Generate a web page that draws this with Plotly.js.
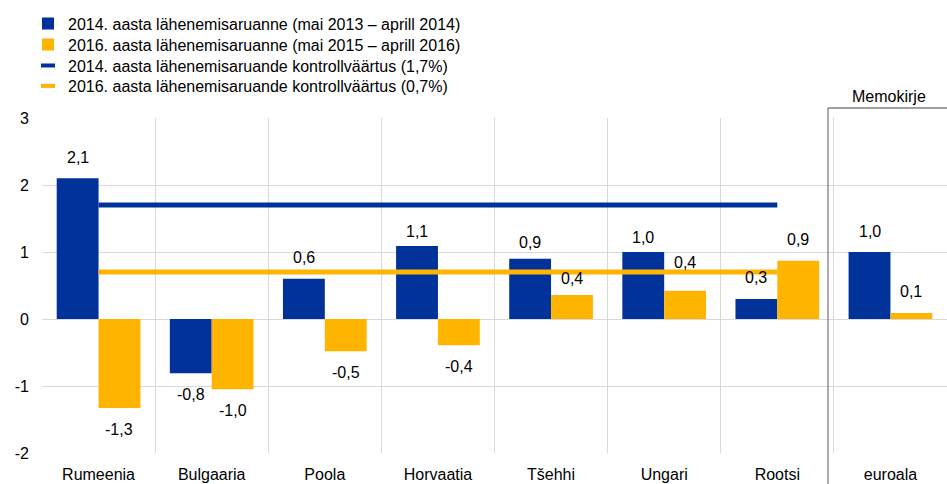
<!DOCTYPE html>
<html>
<head>
<meta charset="utf-8">
<script src="https://cdn.plot.ly/plotly-3.0.1.min.js"></script>
<style>html,body{margin:0;padding:0;background:#fff}#chart{width:947px;height:484px}</style>
</head>
<body>
<div id="chart"></div>
<script>
// ---- data ----
const categories = ["Rumeenia", "Bulgaaria", "Poola", "Horvaatia", "Tšehhi", "Ungari", "Rootsi", "euroala"];
const report2014 = [2.1, -0.81, 0.6, 1.09, 0.9, 1.0, 0.3, 1.0];
const report2016 = [-1.33, -1.05, -0.48, -0.39, 0.36, 0.42, 0.87, 0.09];
const labels2014 = ["2,1", "-0,8", "0,6", "1,1", "0,9", "1,0", "0,3", "1,0"];
const labels2016 = ["-1,3", "-1,0", "-0,5", "-0,4", "0,4", "0,4", "0,9", "0,1"];
const refCategories = ["Rumeenia", "Bulgaaria", "Poola", "Horvaatia", "Tšehhi", "Ungari", "Rootsi"];
const ref2014 = 1.7;
const ref2016 = 0.7;
const seriesNames = [
  "2014. aasta lähenemisaruanne (mai 2013 – aprill 2014)",
  "2016. aasta lähenemisaruanne (mai 2015 – aprill 2016)",
  "2014. aasta lähenemisaruande kontrollväärtus (1,7%)",
  "2016. aasta lähenemisaruande kontrollväärtus (0,7%)"
];
const yTickVals = [-2, -1, 0, 1, 2, 3];
const yTickText = ["-2", "-1", "0", "1", "2", "3"];

// ---- style ----
const BLUE = "#003299", YELLOW = "#FFB400";
const FONT = "Liberation Sans, Arial, sans-serif";
const FS = 16;
const W = 947, H = 484, ML = 42, MR = 0, MT = 118, MB = 31;
const plotW = W - ML - MR, plotH = H - MT - MB;
const BARGAP = 0.26;
const barOffset = (plotW / categories.length) * (1 - BARGAP) / 4;
const px = p => (p - ML) / plotW;          // page x -> paper x
const py = p => (H - MB - p) / plotH;      // page y -> paper y

const traces = [
  {type: "bar", name: seriesNames[0], x: categories, y: report2014, legend: "legend",
   marker: {color: BLUE, line: {width: 0}}, hoverinfo: "skip"},
  {type: "bar", name: seriesNames[1], x: categories, y: report2016, legend: "legend2",
   marker: {color: YELLOW, line: {width: 0}}, hoverinfo: "skip"},
  {type: "scatter", mode: "lines", x: refCategories, y: refCategories.map(() => ref2014),
   line: {color: BLUE, width: 5}, showlegend: false, hoverinfo: "skip"},
  {type: "scatter", mode: "lines", x: refCategories, y: refCategories.map(() => ref2016),
   line: {color: YELLOW, width: 5}, showlegend: false, hoverinfo: "skip"},
  {type: "scatter", mode: "markers", name: seriesNames[2], x: [null], y: [null], legend: "legend3",
   marker: {symbol: "line-ew", size: 10, color: BLUE, line: {color: BLUE, width: 4}}},
  {type: "scatter", mode: "markers", name: seriesNames[3], x: [null], y: [null], legend: "legend4",
   marker: {symbol: "line-ew", size: 10, color: YELLOW, line: {color: YELLOW, width: 4}}}
];

// label vertical gaps (px), with a few manual adjustments like in the original
const liftUp = {"Horvaatia|0": 14, "Ungari|0": 15, "Tšehhi|0": 16, "Tšehhi|1": 16, "Ungari|1": 28};
const annotations = [];
[[report2014, labels2014, -1], [report2016, labels2016, 1]].forEach(([vals, labs, side], s) => {
  vals.forEach((v, i) => {
    const key = categories[i] + "|" + s;
    const gap = liftUp[key] !== undefined ? liftUp[key] : 21;
    annotations.push({
      x: categories[i], y: v, xref: "x", yref: "y",
      xshift: side * barOffset, yshift: v >= 0 ? gap : -gap,
      text: labs[i], showarrow: false,
      font: {family: FONT, size: FS, color: "#000"},
      xanchor: "center", yanchor: "middle"
    });
  });
});
annotations.push({
  x: px(889), y: py(96), xref: "paper", yref: "paper",
  text: "Memokirje", showarrow: false, xanchor: "center", yanchor: "middle",
  font: {family: FONT, size: FS, color: "#000"}
});

function legendAt(yc) {
  return {
    xref: "container", yref: "container", x: 28 / W, y: 1 - yc / H,
    xanchor: "left", yanchor: "middle", bgcolor: "rgba(0,0,0,0)",
    font: {family: FONT, size: FS, color: "#000"}
  };
}

const layout = {
  width: W, height: H,
  margin: {l: ML, r: MR, t: MT, b: MB, pad: 0, autoexpand: false},
  paper_bgcolor: "#fff", plot_bgcolor: "#fff",
  barmode: "group", bargap: BARGAP, bargroupgap: 0,
  font: {family: FONT, size: FS, color: "#000"},
  showlegend: true,
  legend: legendAt(23.5),
  legend2: legendAt(44.5),
  legend3: legendAt(65.5),
  legend4: legendAt(86),
  xaxis: {
    type: "category", range: [-0.5, 7.5], tickson: "boundaries", tickangle: 0,
    showgrid: true, gridcolor: "#d9d9d9", gridwidth: 1,
    showline: false, zeroline: false, ticks: "", ticklabelstandoff: 10,
    tickfont: {family: FONT, size: FS, color: "#000"}, fixedrange: true, automargin: false
  },
  yaxis: {
    range: [-2, 3], tickvals: yTickVals, ticktext: yTickText,
    showgrid: true, gridcolor: "#d9d9d9", gridwidth: 1,
    zeroline: true, zerolinecolor: "#d9d9d9", zerolinewidth: 1,
    showline: false, ticks: "", ticklabelstandoff: 12,
    tickfont: {family: FONT, size: FS, color: "#000"}, fixedrange: true, automargin: false
  },
  shapes: [
    {type: "line", xref: "paper", yref: "paper", x0: px(828), x1: px(828), y0: py(H + 2), y1: py(108),
     line: {color: "#808080", width: 1.3}},
    {type: "line", xref: "paper", yref: "paper", x0: px(828), x1: px(W + 2), y0: py(108), y1: py(108),
     line: {color: "#808080", width: 1.3}}
  ],
  annotations: annotations
};

Plotly.newPlot("chart", traces, layout, {staticPlot: true, displayModeBar: false});
</script>
</body>
</html>
